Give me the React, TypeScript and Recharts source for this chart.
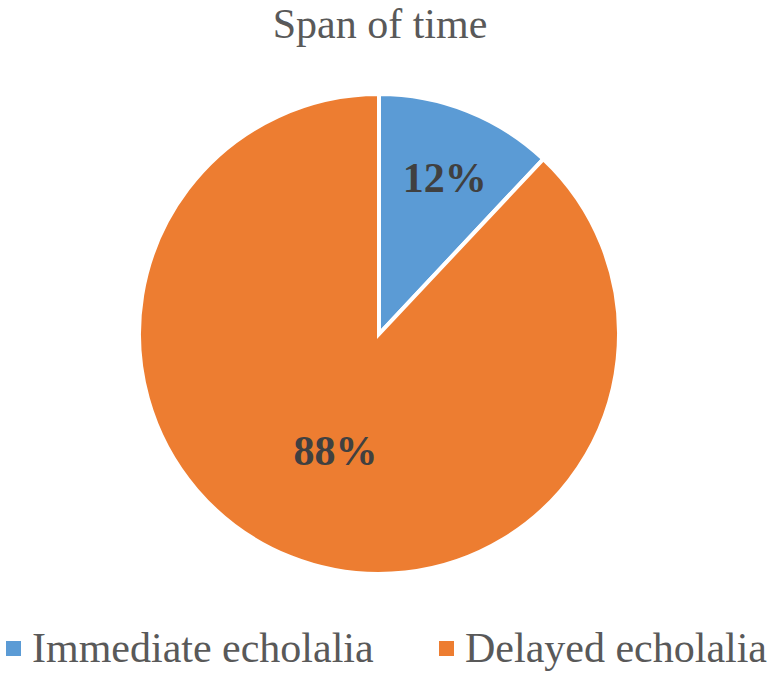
import React from "react";
import { PieChart, Pie, Cell, Legend } from "recharts";

const categories = ["Immediate echolalia", "Delayed echolalia"];
const shares = [12, 88];
const colors = ["#5B9BD5", "#ED7D31"];
const title = "Span of time";

const data = categories.map((name, i) => ({ name, value: shares[i] }));

const labelRadiusFactor = [0.7, 0.525];
const labelDx = [4, 3];
const legendSquareX = [6, 439];
const legendTextX = [32, 465];
const RAD = Math.PI / 180;
const FONT = "'Liberation Serif', 'Times New Roman', serif";

const renderLabel = (props: any) => {
  const { cx, cy, midAngle, outerRadius, index, value } = props;
  const r = outerRadius * labelRadiusFactor[index];
  const x = cx + r * Math.cos(-midAngle * RAD) + labelDx[index];
  const y = cy + r * Math.sin(-midAngle * RAD);
  return (
    <text
      x={x}
      y={y}
      fill="#404040"
      textAnchor="middle"
      dominantBaseline="central"
      fontFamily={FONT}
      fontWeight="bold"
      fontSize={42}
    >
      {`${value}%`}
    </text>
  );
};

const renderLegend = () => (
  <div
    style={{
      position: "absolute",
      left: 0,
      top: 0,
      width: 771,
      height: 675,
      fontFamily: FONT,
      fontSize: 42,
      color: "#595959",
      pointerEvents: "none",
    }}
  >
    {categories.map((c, i) => (
      <React.Fragment key={c}>
        <div
          style={{
            position: "absolute",
            left: legendSquareX[i],
            top: 641,
            width: 15,
            height: 15,
            background: colors[i],
          }}
        />
        <div
          style={{
            position: "absolute",
            left: legendTextX[i],
            top: 623,
            lineHeight: "50px",
            whiteSpace: "nowrap",
          }}
        >
          {c}
        </div>
      </React.Fragment>
    ))}
  </div>
);

export default function App() {
  return (
    <div style={{ position: "absolute", left: 0, top: 0, width: 771, height: 675, background: "#fff" }}>
      <div
        style={{
          position: "absolute",
          left: 0,
          top: -1,
          width: 760,
          textAlign: "center",
          fontFamily: FONT,
          fontSize: 42,
          color: "#595959",
          lineHeight: "50px",
        }}
      >
        {title}
      </div>
      <PieChart width={771} height={675} margin={{ top: 0, right: 0, bottom: 0, left: 0 }}>
        <Pie
          data={data}
          dataKey="value"
          nameKey="name"
          cx={379}
          cy={334}
          outerRadius={240}
          innerRadius={0}
          startAngle={90}
          endAngle={-270}
          stroke="#ffffff"
          strokeWidth={4}
          isAnimationActive={false}
          label={renderLabel}
          labelLine={false}
        >
          {data.map((d, i) => (
            <Cell key={d.name} fill={colors[i]} />
          ))}
        </Pie>
        <Legend
          content={renderLegend}
          wrapperStyle={{ position: "absolute", left: 0, top: 0, width: 771, height: 675 }}
        />
      </PieChart>
    </div>
  );
}
